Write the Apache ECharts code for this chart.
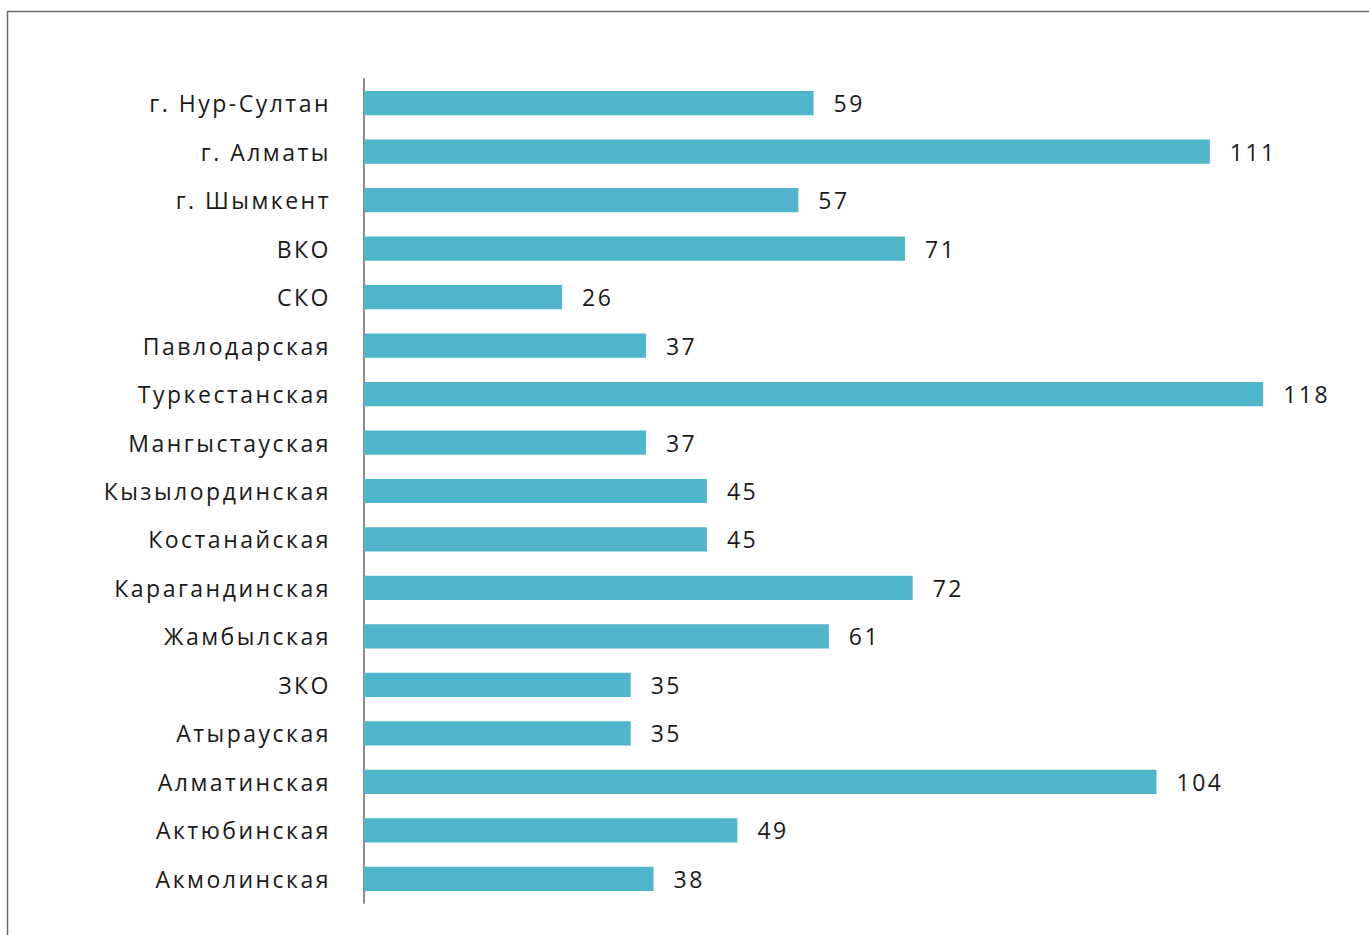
<!DOCTYPE html>
<html>
<head>
<meta charset="utf-8">
<script src="https://cdn.jsdelivr.net/npm/echarts@6/dist/echarts.min.js"></script>
<style>
html,body{margin:0;padding:0;background:#fff;}
#chart{width:1369px;height:935px;}
#chart text{letter-spacing:2.5px;}
</style>
</head>
<body>
<div id="chart"></div>
<script>
const categories = ["г. Нур-Султан","г. Алматы","г. Шымкент","ВКО","СКО","Павлодарская","Туркестанская","Мангыстауская","Кызылординская","Костанайская","Карагандинская","Жамбылская","ЗКО","Атырауская","Алматинская","Актюбинская","Акмолинская"];
const values = [59,111,57,71,26,37,118,37,45,45,72,61,35,35,104,49,38];

const chart = echarts.init(document.getElementById('chart'), null, {renderer:'svg'});
chart.setOption({
  animation:false,
  textStyle:{fontFamily:"Open Sans"},
  graphic:[
    {type:'line',shape:{x1:7,y1:11.5,x2:1369,y2:11.5},style:{stroke:'#6b6b6b',lineWidth:1.5}},
    {type:'line',shape:{x1:7.5,y1:11,x2:7.5,y2:935},style:{stroke:'#6b6b6b',lineWidth:1.5}}
  ],
  grid:{left:364,top:79,width:990.6,height:824},
  xAxis:{type:'value',min:0,max:130,show:false},
  yAxis:{type:'category',data:categories,inverse:true,
    axisLine:{show:true,lineStyle:{color:'#8c8c8c',width:2}},
    axisTick:{show:false},
    axisLabel:{color:'#1a1a1a',fontSize:23,margin:33,fontFamily:"Open Sans"}
  },
  series:[{type:'bar',data:values,barWidth:'50%',
    itemStyle:{color:'#4EB5CA'},
    label:{show:true,position:'right',distance:20,color:'#1a1a1a',fontSize:23,fontFamily:"Open Sans"}
  }]
});
</script>
</body>
</html>
